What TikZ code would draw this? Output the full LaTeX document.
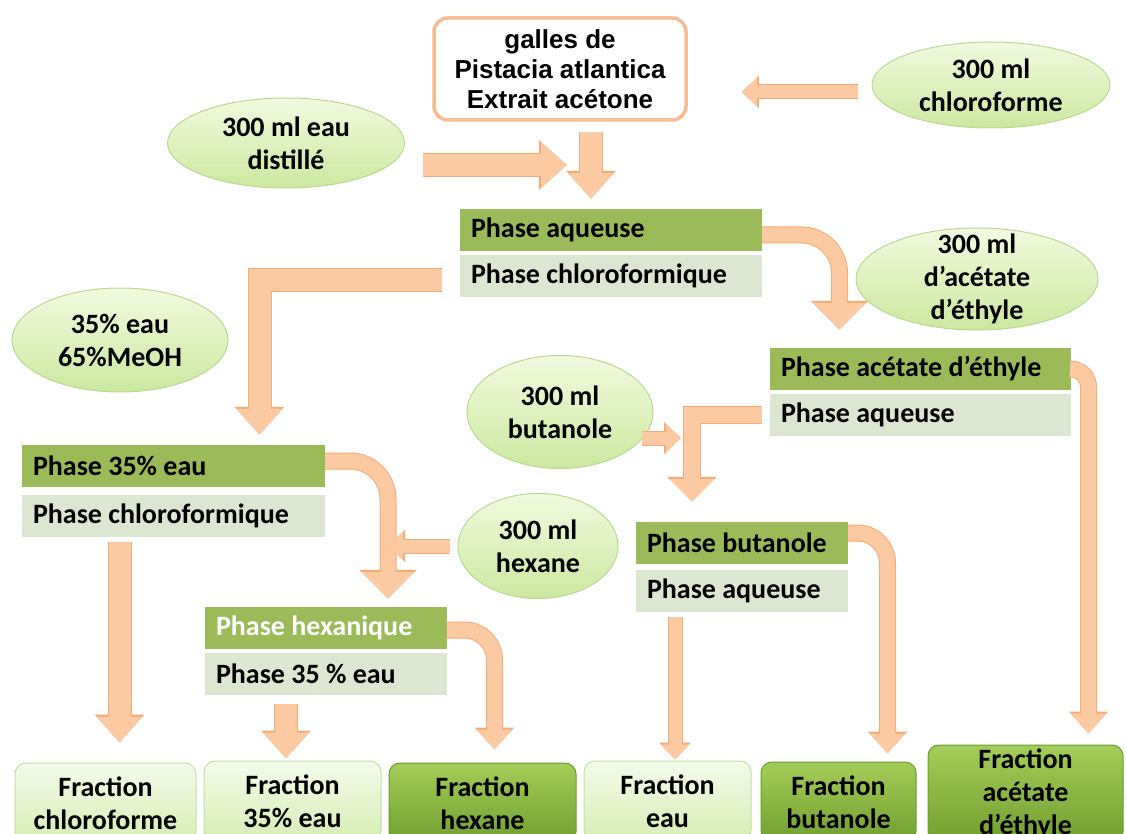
\documentclass[tikz,border=0pt]{standalone}
\usepackage{fontspec}
\setmainfont{Carlito}
\newfontfamily\arialfont{Liberation Sans}
\usetikzlibrary{arrows.meta,shapes.geometric}

\definecolor{peach}{HTML}{FBCAA2}
\definecolor{peachedge}{HTML}{F6AB74}
\definecolor{olive}{HTML}{9BBB59}
\definecolor{sage}{HTML}{DCE6D0}
\definecolor{limetop}{HTML}{F2FADF}
\definecolor{limebot}{HTML}{CBE8A0}
\definecolor{limeedge}{HTML}{B9DA8E}
\definecolor{paletop}{HTML}{F4FBEA}
\definecolor{palebot}{HTML}{D6EDB4}
\definecolor{paleedge}{HTML}{C3DFA0}
\definecolor{leaftop}{HTML}{A3CD58}
\definecolor{leafbot}{HTML}{709F30}
\definecolor{leafedge}{HTML}{6B9A30}

\tikzset{
  pot/.style={ellipse, draw=limeedge, line width=1pt, top color=limetop, bottom color=limebot,
    align=center, inner xsep=0pt, inner ysep=-20pt, font=\bfseries\fontsize{28}{33}\selectfont},
  darkphase/.style={fill=olive, minimum height=42pt, text width=#1, inner xsep=11pt, inner ysep=0pt,
    align=flush left, font=\bfseries\fontsize{28}{33}\selectfont},
  lightphase/.style={darkphase=#1, fill=sage},
  topbox/.style={draw=peachedge!80, line width=3.5pt, rounded corners=14pt, fill=white,
    minimum width=252pt, minimum height=102pt, align=center, inner sep=0pt,
    font=\arialfont\bfseries\fontsize{26}{30}\selectfont},
  fracpale/.style={draw=paleedge, line width=1pt, rounded corners=11pt, top color=paletop, bottom color=palebot,
    minimum height=80pt, align=center, inner sep=0pt, font=\bfseries\fontsize{28}{33}\selectfont},
  fracdark/.style={fracpale, draw=leafedge, top color=leaftop, bottom color=leafbot},
  bigflow/.style={line width=22pt, draw=peach, -{Triangle[width=44pt,length=26pt]},
    preaction={draw=peachedge, line width=24pt, -{Triangle[width=48pt,length=28pt]}}},
  midflow/.style={line width=16pt, draw=peach, -{Triangle[width=44pt,length=23pt]},
    preaction={draw=peachedge, line width=18pt, -{Triangle[width=48pt,length=25pt]}}},
  thinflow/.style={line width=13pt, draw=peach, -{Triangle[width=27pt,length=15pt]},
    preaction={draw=peachedge, line width=15pt, -{Triangle[width=31pt,length=17pt]}}},
  bendflow/.style={line width=15pt, draw=peach, rounded corners=#1, -{Triangle[width=52pt,length=27pt]},
    preaction={draw=peachedge, line width=17pt, -{Triangle[width=56pt,length=29pt]}}},
  bendflowsmall/.style={line width=15pt, draw=peach, rounded corners=#1, -{Triangle[width=34pt,length=20pt]},
    preaction={draw=peachedge, line width=17pt, -{Triangle[width=38pt,length=22pt]}}},
}

\begin{document}
\begin{tikzpicture}[x=1pt,y=-1pt]
\useasboundingbox (0,0) rectangle (1126,834);
\clip (0,0) rectangle (1126,834);

% start and solvents
\node[topbox] (top) at (560,69) {galles de\\Pistacia atlantica\\Extrait acétone};
\node[pot, minimum width=238pt, minimum height=86pt] (chl) at (991,85) {300 ml\\chloroforme};
\node[pot, minimum width=237pt, minimum height=90pt] (eau) at (286,143) {300 ml eau\\distillé};
\node[pot, minimum width=242pt, minimum height=102pt] (acet) at (977,279) {300 ml\\d’acétate\\d’éthyle};
\node[pot, minimum width=216pt, minimum height=104pt] (meoh) at (120,340) {35\% eau\\65\%MeOH};
\node[pot, minimum width=186pt, minimum height=113pt] (but) at (560,412) {300 ml\\butanole};
\node[pot, minimum width=160pt, minimum height=105pt] (hex) at (538,546) {300 ml\\hexane};

% phases
\node[darkphase=280pt] (pa1) at (611,230) {Phase aqueuse};
\node[lightphase=280pt] (pa2) at (611,276) {Phase chloroformique};
\node[darkphase=281pt] (pe1) at (173.5,466) {Phase 35\% eau};
\node[lightphase=281pt] (pe2) at (173.5,516) {Phase chloroformique};
\node[darkphase=220pt, text=white] (ph1) at (326,628) {Phase hexanique};
\node[lightphase=220pt] (ph2) at (326,674) {Phase 35 \% eau};
\node[darkphase=279pt] (pac1) at (920.5,369) {Phase acétate d’éthyle};
\node[lightphase=279pt] (pac2) at (920.5,415) {Phase aqueuse};
\node[darkphase=190pt] (pb1) at (742,543) {Phase butanole};
\node[lightphase=190pt] (pb2) at (742,591) {Phase aqueuse};

% fractions
\node[fracpale, minimum width=181pt] (f1) at (105.5,803) {Fraction\\chloroforme};
\node[fracpale, minimum width=177pt] (f2) at (292.5,801) {Fraction\\35\% eau};
\node[fracdark, minimum width=187pt] (f3) at (482.5,803) {Fraction\\hexane};
\node[fracpale, minimum width=167pt] (f4) at (667.5,801) {Fraction\\eau};
\node[fracdark, minimum width=155pt] (f5) at (838.5,802) {Fraction\\butanole};
\node[fracdark, minimum width=195pt, minimum height=98pt] (f6) at (1025.5,794) {Fraction\\acétate\\d’éthyle};

\coordinate (mix) at (591,165);

% arrows
\draw[thinflow, shorten <=14pt, shorten >=54pt] ([yshift=-7pt]chl.west) -- ([yshift=-7pt]chl.west -| top.east);
\draw[bigflow, shorten <=18pt, shorten >=24pt] (eau.east |- mix) -- (mix);
\draw[bigflow, shorten <=10pt, shorten >=10pt] (top.south -| mix) -- (pa1.north -| mix);
\draw[bendflow=38pt] ([yshift=-5pt]pa1.east) -| ([xshift=-81pt,yshift=18pt]pac1.north);
\draw[bigflow, line cap=butt] ([xshift=-18pt,yshift=-4pt]pa2.west) -| ([xshift=86pt,yshift=10pt]pe1.north);
\draw[bendflow=38pt] ([yshift=5pt]pe1.east) -| ([xshift=62pt,yshift=8pt]ph1.north);
\draw[thinflow, shorten <=8pt, shorten >=62pt] (hex.west) -- (hex.west -| ph1.north);
\draw[bendflowsmall=30pt] ([yshift=-2pt]ph1.east) -| ([xshift=12pt,yshift=13pt]f3.north);
\draw[bigflow, shorten <=5pt, shorten >=20pt] ([xshift=-54pt]pe2.south) -- ([xshift=-54pt]pe2.south |- f1.north);
\draw[bigflow, shorten <=9pt, shorten >=2pt] ([xshift=-40pt]ph2.south) -- ([xshift=-40pt]ph2.south |- f2.north);
\draw[thinflow, shorten <=5pt, shorten >=1pt] ([xshift=-67pt]pb2.south) -- ([xshift=-67pt]pb2.south |- f4.north);
\draw[midflow] ([xshift=-8pt]pac2.west) -| ([xshift=-50pt,yshift=20pt]pb1.north);
\draw[thinflow, shorten <=-12pt, shorten >=61pt] ([yshift=-26pt]but.east) -- ([yshift=-26pt]but.east -| pb1.north);
\draw[bendflowsmall=30pt] ([yshift=10pt]pb1.east) -| ([xshift=49pt,yshift=8pt]f5.north);
\draw[bendflowsmall=18pt] (pac1.east) -| ([xshift=63pt,yshift=11pt]f6.north);
\end{tikzpicture}
\end{document}
